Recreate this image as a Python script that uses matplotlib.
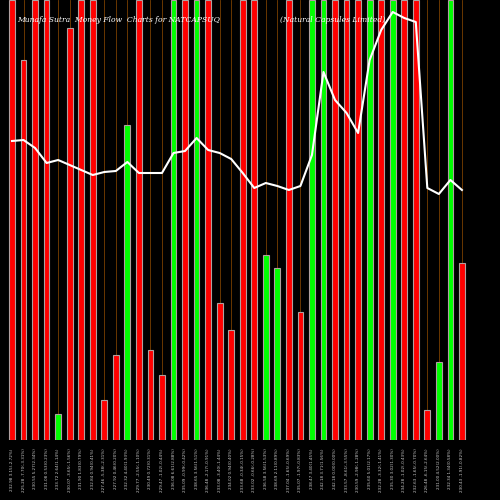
import matplotlib
matplotlib.use("Agg")
import matplotlib.pyplot as plt

# bar heights (0..440 scale), colours, and money flow line
heights = [440, 380, 440, 440, 26, 412, 440, 440, 40, 85, 315, 440, 90, 65, 440, 440, 440, 440, 137, 110,
           440, 440, 185, 172, 440, 128, 440, 440, 440, 440, 440, 440, 440, 440, 440, 440, 30, 78, 440, 177]
colors = list("rrrrgrrrrrgrrrgrgrrr" "rrggrrggrrrgrgrrrggr")
line_vals = [299, 300, 292, 277, 280, 275, 270, 265, 268, 269, 278, 267, 267, 267, 287, 289, 302, 290, 287, 281,
             267, 252, 257, 254, 250, 254, 285, 368, 340, 327, 307, 380, 410, 428, 422, 418, 252, 246, 260, 250]
labels = ["232.98 3.15(-2.72%)", "225.28 -7.70(-3.31%)", "230.55 5.27(2.34%)", "231.08 0.53(0.23%)",
          "233.72 2.64(1.14%)", "230.07 -3.65(-1.56%)", "231.90 1.83(0.79%)", "232.84 0.94(0.41%)",
          "227.46 -5.38(-2.31%)", "227.92 0.46(0.20%)", "232.32 4.40(1.93%)", "229.77 -2.55(-1.10%)",
          "230.49 0.72(0.31%)", "229.47 -1.02(-0.44%)", "236.08 6.61(2.88%)", "235.09 -0.99(-0.42%)",
          "238.65 3.56(1.51%)", "236.48 -2.17(-0.91%)", "233.08 -3.40(-1.44%)", "234.02 0.94(0.40%)",
          "233.68 -0.34(-0.15%)", "233.02 -0.66(-0.28%)", "236.58 3.56(1.53%)", "238.69 2.11(0.89%)",
          "237.04 -1.65(-0.69%)", "235.07 -1.97(-0.83%)", "238.47 3.40(1.45%)", "242.18 3.71(1.56%)",
          "242.18 0.00(0.00%)", "233.57 -8.61(-3.55%)", "230.59 -2.98(-1.28%)", "235.60 5.01(2.17%)",
          "232.28 -3.32(-1.41%)", "235.30 3.02(1.30%)", "234.28 -1.02(-0.43%)", "232.63 -1.65(-0.70%)",
          "226.48 -6.15(-2.64%)", "231.00 4.52(2.00%)", "232.34 1.34(0.58%)", "230.43 -1.91(-0.82%)"]

cmap = {"r": "#ff0000", "g": "#00ff00"}
x = list(range(1, len(heights) + 1))

fig = plt.figure(figsize=(5, 5), dpi=100, facecolor="black")
ax = fig.add_axes([0, 0.12, 1, 0.88], facecolor="black")
for xi in x:
    ax.axvline(xi, color="#7a4000", lw=0.6, zorder=1)
ax.bar(x, heights, width=0.5, color=[cmap[c] for c in colors], edgecolor="#b0a0a0", linewidth=0.8, zorder=2)
ax.plot(x, line_vals, color="white", lw=1.5, zorder=3)
ax.set_xlim(-0.04, 43.3)
ax.set_ylim(0, 440)
ax.set_xticks(x)
ax.set_xticklabels(labels, rotation=90, fontsize=3, color="#cccccc")
ax.tick_params(length=0, pad=6)
ax.set_yticks([])
for s in ax.spines.values():
    s.set_visible(False)

fig.text(0.035, 0.955, "Munafa Sutra  Money Flow  Charts for NATCAPSUQ", color="white",
         fontsize=5.5, family="DejaVu Serif", style="italic")
fig.text(0.56, 0.955, "(Natural Capsules Limited)", color="white",
         fontsize=5.5, family="DejaVu Serif", style="italic")

fig.savefig("out.png", facecolor="black")
